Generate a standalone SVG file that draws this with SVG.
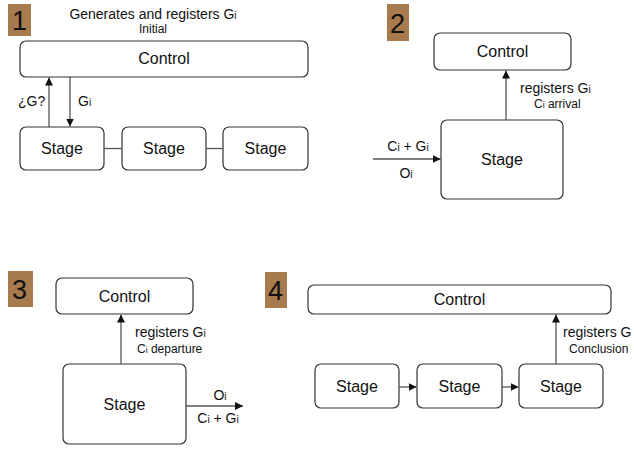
<svg xmlns="http://www.w3.org/2000/svg" width="634" height="449" viewBox="0 0 634 449">
  <style>
    text { font-family: "Liberation Sans", Arial, sans-serif; fill: #111; }
    .box { fill: #fff; stroke: #333; stroke-width: 1.2; }
    .node { font-size: 16px; text-anchor: middle; }
    .lbl { font-size: 14px; }
    .sub { font-size: 12px; }
    .i { font-size: 0.72em; }
    .badge { fill: #a87b4f; }
    .num { font-size: 27px; }
    .wire { stroke: #555; stroke-width: 1.3; fill: none; }
  </style>
  <defs>
    <marker id="ah" viewBox="0 0 10 10" refX="10" refY="5" markerWidth="8" markerHeight="8" markerUnits="userSpaceOnUse" orient="auto">
      <path d="M0,0 L10,5 L0,10 z" fill="#111"/>
    </marker>
  </defs>

  <!-- step badges -->
  <g id="badge1"><rect class="badge" x="8" y="4" width="23" height="32"/><text class="num" x="12" y="30">1</text></g>
  <g id="badge2"><rect class="badge" x="387" y="4" width="22" height="37"/><text class="num" x="390" y="33">2</text></g>
  <g id="badge3"><rect class="badge" x="8" y="271" width="25" height="36"/><text class="num" x="12" y="299">3</text></g>
  <g id="badge4"><rect class="badge" x="265" y="272" width="22" height="36"/><text class="num" x="268" y="300">4</text></g>

  <!-- panel 1 -->
  <g id="p1-title">
    <text class="lbl" x="153" y="19" text-anchor="middle">Generates and registers G<tspan class="i">i</tspan></text>
    <text class="sub" x="153" y="33" text-anchor="middle" font-size="11">Initial</text>
  </g>
  <g id="p1-control"><rect class="box" x="20" y="41" width="288" height="36" rx="6"/><text class="node" x="164" y="64">Control</text></g>
  <g id="p1-stage1"><rect class="box" x="20" y="127" width="84" height="43" rx="6"/><text class="node" x="62" y="154">Stage</text></g>
  <g id="p1-stage2"><rect class="box" x="122" y="127" width="84" height="43" rx="6"/><text class="node" x="164" y="154">Stage</text></g>
  <g id="p1-stage3"><rect class="box" x="223" y="127" width="85" height="43" rx="6"/><text class="node" x="265.5" y="154">Stage</text></g>

  <!-- panel 2 -->
  <g id="p2-control"><rect class="box" x="434" y="33" width="137" height="37" rx="6"/><text class="node" x="502.5" y="57">Control</text></g>
  <g id="p2-stage"><rect class="box" x="441" y="120" width="122" height="79" rx="6"/><text class="node" x="502" y="165">Stage</text></g>

  <!-- panel 3 -->
  <g id="p3-control"><rect class="box" x="56" y="278" width="137" height="36" rx="6"/><text class="node" x="124.5" y="301.5">Control</text></g>
  <g id="p3-stage"><rect class="box" x="63" y="364" width="123" height="80" rx="6"/><text class="node" x="124.5" y="409.5">Stage</text></g>

  <!-- panel 4 -->
  <g id="p4-control"><rect class="box" x="308" y="285" width="303" height="29" rx="6"/><text class="node" x="459.5" y="305">Control</text></g>
  <g id="p4-stage1"><rect class="box" x="315" y="364" width="84" height="44" rx="6"/><text class="node" x="357" y="391.5">Stage</text></g>
  <g id="p4-stage2"><rect class="box" x="417" y="364" width="85" height="44" rx="6"/><text class="node" x="459.5" y="391.5">Stage</text></g>
  <g id="p4-stage3"><rect class="box" x="519" y="364" width="84" height="44" rx="6"/><text class="node" x="561" y="391.5">Stage</text></g>

  <!-- connectors -->
  <g id="connectors">
    <line class="wire" x1="49" y1="127" x2="49" y2="77.5" marker-end="url(#ah)"/>
    <line class="wire" x1="70" y1="77" x2="70" y2="126.5" marker-end="url(#ah)"/>
    <line class="wire" x1="104" y1="148.5" x2="122" y2="148.5"/>
    <line class="wire" x1="206" y1="148.5" x2="223" y2="148.5"/>

    <line class="wire" x1="506" y1="120" x2="506" y2="70.5" marker-end="url(#ah)"/>
    <line class="wire" x1="373" y1="159" x2="440.5" y2="159" marker-end="url(#ah)"/>

    <line class="wire" x1="121" y1="364" x2="121" y2="314.5" marker-end="url(#ah)"/>
    <line class="wire" x1="186" y1="406" x2="243" y2="406" marker-end="url(#ah)"/>

    <line class="wire" x1="556" y1="364" x2="556" y2="314.5" marker-end="url(#ah)"/>
    <line class="wire" x1="399" y1="387" x2="416.5" y2="387" marker-end="url(#ah)"/>
    <line class="wire" x1="502" y1="387" x2="518.5" y2="387" marker-end="url(#ah)"/>
  </g>

  <!-- connector labels -->
  <g id="labels">
    <text class="lbl" x="18" y="106">¿G?</text>
    <text class="lbl" x="78" y="106">G<tspan class="i">i</tspan></text>

    <text class="lbl" x="520" y="93">registers G<tspan class="i">i</tspan></text>
    <text class="sub" x="534" y="108">C<tspan class="i">i</tspan> arrival</text>
    <text class="lbl" x="408" y="151" text-anchor="middle">C<tspan class="i">i</tspan> + G<tspan class="i">i</tspan></text>
    <text class="lbl" x="406" y="178" text-anchor="middle">O<tspan class="i">i</tspan></text>

    <text class="lbl" x="135" y="337">registers G<tspan class="i">i</tspan></text>
    <text class="sub" x="137" y="353">C<tspan class="i">i</tspan> departure</text>
    <text class="lbl" x="220" y="400" text-anchor="middle">O<tspan class="i">i</tspan></text>
    <text class="lbl" x="218" y="423" text-anchor="middle">C<tspan class="i">i</tspan> + G<tspan class="i">i</tspan></text>

    <text class="lbl" x="563" y="337">registers G</text>
    <text class="sub" x="569" y="353">Conclusion</text>
  </g>
</svg>
